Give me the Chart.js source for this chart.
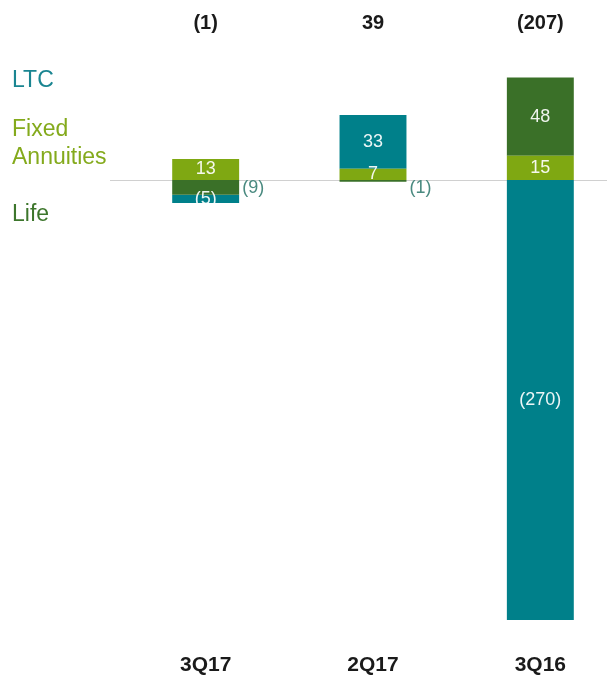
<!DOCTYPE html>
<html>
<head>
<meta charset="utf-8">
<script src="https://cdn.jsdelivr.net/npm/chart.js@4"></script>
<style>
  html, body { margin: 0; padding: 0; background: #fff; overflow: hidden; }
  canvas { display: block; }
</style>
</head>
<body>
<canvas id="segmentChart" width="624" height="681"></canvas>
<script>
// quarters and segment results
const quarters = ['3Q17', '2Q17', '3Q16'];
const fixedAnnuities = [13, 7, 15];
const life = [-9, -1, 48];
const ltc = [-5, 33, -270];
const totals = [-1, 39, -207];

const TEAL = '#00808a';
const LIME = '#7fa812';
const FOREST = '#3a7028';
const FONT = '"Liberation Sans", Arial, sans-serif';

const fmt = v => v < 0 ? '(' + Math.abs(v) + ')' : String(v);

// thin grey baseline at zero, behind the bars
const zeroLine = {
  id: 'zeroLine',
  beforeDatasetsDraw(chart) {
    const ctx = chart.ctx;
    const y = Math.round(chart.scales.y.getPixelForValue(0)) + 0.5;
    ctx.save();
    ctx.strokeStyle = '#d0d0d0';
    ctx.lineWidth = 1;
    ctx.beginPath();
    ctx.moveTo(110, y);
    ctx.lineTo(chart.width, y);
    ctx.stroke();
    ctx.restore();
  }
};

// values on the segments, small ones pushed to the right of the bar
const segmentLabels = {
  id: 'segmentLabels',
  afterDatasetsDraw(chart) {
    const ctx = chart.ctx;
    ctx.save();
    ctx.font = '18px ' + FONT;
    ctx.textBaseline = 'middle';
    chart.data.datasets.forEach((ds, i) => {
      const meta = chart.getDatasetMeta(i);
      meta.data.forEach((bar, j) => {
        const v = ds.data[j];
        const outside = ds.labelOutside && ds.labelOutside[j];
        if (outside) {
          ctx.textAlign = 'left';
          ctx.fillStyle = '#4a8a80';
          ctx.fillText(fmt(v), bar.x + bar.width / 2 + 3, Math.min(bar.base, bar.y) + 8);
        } else {
          ctx.textAlign = 'center';
          ctx.fillStyle = 'rgba(255,255,255,0.92)';
          ctx.fillText(fmt(v), bar.x, (bar.y + bar.base) / 2);
        }
      });
    });
    ctx.restore();
  }
};

// totals above each column and the coloured segment names on the left
const headerText = {
  id: 'headerText',
  afterDraw(chart) {
    const ctx = chart.ctx;
    const meta = chart.getDatasetMeta(0);
    ctx.save();
    ctx.textBaseline = 'middle';
    ctx.textAlign = 'center';
    ctx.font = 'bold 20px ' + FONT;
    ctx.fillStyle = '#1a1a1a';
    totals.forEach((t, j) => ctx.fillText(fmt(t), meta.data[j].x, 23));

    ctx.textAlign = 'left';
    ctx.font = '23px ' + FONT;
    ctx.fillStyle = '#1a8591';
    ctx.fillText('LTC', 12, 81);
    ctx.fillStyle = '#84aa1c';
    ctx.fillText('Fixed', 12, 130);
    ctx.fillText('Annuities', 12, 158);
    ctx.fillStyle = '#3d762c';
    ctx.fillText('Life', 12, 215);
    ctx.restore();
  }
};

new Chart(document.getElementById('segmentChart').getContext('2d'), {
  type: 'bar',
  data: {
    labels: quarters,
    datasets: [
      { label: 'Fixed Annuities', data: fixedAnnuities, backgroundColor: LIME },
      { label: 'Life', data: life, backgroundColor: FOREST, labelOutside: [true, true, false] },
      { label: 'LTC', data: ltc, backgroundColor: TEAL }
    ]
  },
  options: {
    responsive: false,
    animation: false,
    devicePixelRatio: 1,
    barPercentage: 0.4,
    categoryPercentage: 1,
    layout: { padding: { left: 122, right: 0, top: 40, bottom: 4 } },
    plugins: {
      legend: { display: false },
      tooltip: { enabled: false }
    },
    scales: {
      x: {
        stacked: true,
        grid: { display: false, drawTicks: false },
        border: { display: false },
        ticks: {
          padding: 33,
          color: '#1a1a1a',
          font: { family: FONT, size: 21, weight: 'bold' }
        },
        afterFit(scale) { scale.height = 57; }
      },
      y: {
        stacked: true,
        display: false,
        min: -270,
        max: 86
      }
    }
  },
  plugins: [zeroLine, segmentLabels, headerText]
});
</script>
</body>
</html>
